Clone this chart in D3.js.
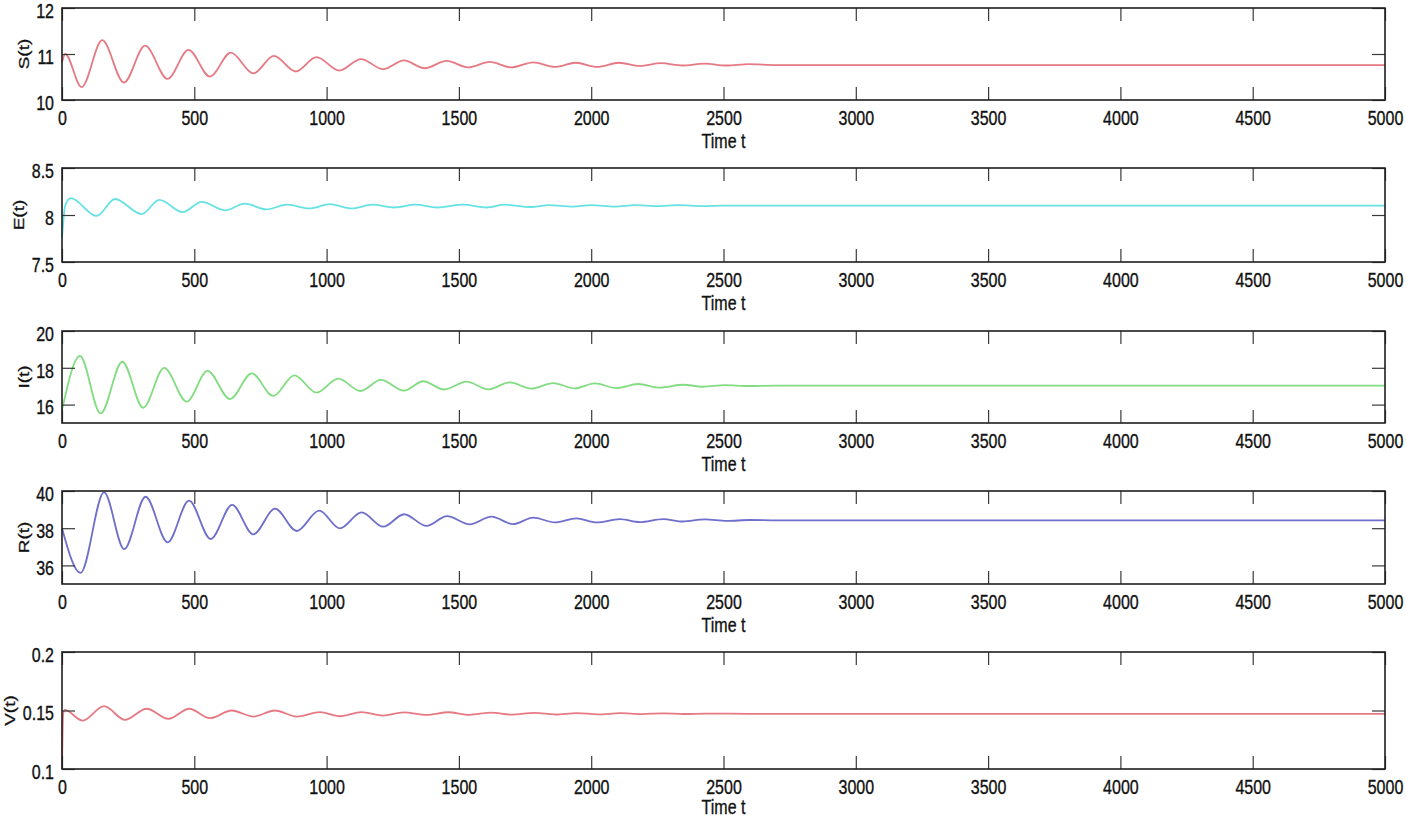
<!DOCTYPE html>
<html>
<head>
<meta charset="utf-8">
<script src="https://cdn.jsdelivr.net/npm/d3@7"></script>
<style>
  html, body { margin: 0; padding: 0; background: #fff; }
  svg { display: block; }
  text { font-family: "Liberation Sans", Arial, Helvetica, sans-serif; fill: #111; }
</style>
</head>
<body>
<svg id="chart" width="1406" height="818"></svg>
<script>
// ---------------- data ----------------
const xTickValues = [0, 500, 1000, 1500, 2000, 2500, 3000, 3500, 4000, 4500, 5000];
const xLabel = "Time t";

const sTime = [0, 12, 74, 152, 234, 314, 399, 478, 559, 638, 723, 801, 883, 962, 1048, 1130, 1214, 1292, 1371, 1453, 1535, 1617, 1697, 1781, 1862, 1942, 2022, 2105, 2184, 2264, 2345, 2428, 2510, 2595, 2700, 5000];
const sVal  = [10.82, 11.00, 10.28, 11.30, 10.38, 11.18, 10.46, 11.09, 10.51, 11.03, 10.58, 10.96, 10.62, 10.93, 10.64, 10.89, 10.67, 10.86, 10.69, 10.85, 10.71, 10.83, 10.71, 10.82, 10.72, 10.81, 10.72, 10.81, 10.74, 10.80, 10.75, 10.79, 10.75, 10.78, 10.76, 10.76];
const sTicks = [10, 11, 12];

const eTime = [0, 12, 33, 131, 200, 301, 368, 456, 528, 616, 691, 773, 851, 935, 1012, 1095, 1173, 1255, 1335, 1418, 1515, 1604, 1673, 1770, 1840, 1930, 2000, 2090, 2165, 2250, 2330, 2420, 2500, 2600, 5000];
const eVal  = [7.75, 8.10, 8.18, 7.99, 8.17, 8.01, 8.16, 8.03, 8.14, 8.05, 8.12, 8.06, 8.11, 8.07, 8.115, 8.07, 8.11, 8.08, 8.11, 8.08, 8.11, 8.08, 8.11, 8.085, 8.105, 8.09, 8.105, 8.09, 8.105, 8.095, 8.105, 8.095, 8.10, 8.10, 8.10];
const eTicks = [7.5, 8, 8.5];

const iTime = [0, 68, 146, 228, 307, 386, 471, 550, 635, 717, 798, 878, 962, 1044, 1128, 1205, 1292, 1365, 1444, 1529, 1611, 1692, 1774, 1856, 1938, 2014, 2095, 2177, 2259, 2347, 2423, 2505, 2590, 2700, 5000];
const iVal  = [15.7, 18.64, 15.52, 18.33, 15.83, 18.00, 16.16, 17.83, 16.30, 17.70, 16.47, 17.59, 16.65, 17.41, 16.74, 17.34, 16.76, 17.27, 16.82, 17.25, 16.83, 17.21, 16.87, 17.17, 16.88, 17.15, 16.90, 17.12, 16.92, 17.08, 16.97, 17.06, 17.01, 17.03, 17.03];
const iTicks = [16, 18, 20];

const rTime = [0, 70, 159, 235, 316, 399, 480, 562, 643, 723, 805, 887, 972, 1050, 1132, 1214, 1293, 1378, 1455, 1541, 1623, 1705, 1781, 1862, 1944, 2020, 2108, 2184, 2272, 2346, 2429, 2512, 2600, 2700, 5000];
const rVal  = [38.0, 35.60, 39.93, 36.88, 39.69, 37.24, 39.48, 37.42, 39.25, 37.67, 39.05, 37.85, 38.94, 37.99, 38.85, 38.08, 38.75, 38.12, 38.65, 38.21, 38.62, 38.22, 38.57, 38.31, 38.53, 38.31, 38.49, 38.33, 38.49, 38.36, 38.47, 38.39, 38.44, 38.42, 38.42];
const rTicks = [36, 38, 40];

const vTime = [0, 4, 10, 78, 159, 238, 320, 402, 481, 559, 641, 723, 805, 887, 975, 1050, 1132, 1214, 1290, 1378, 1460, 1540, 1620, 1700, 1785, 1865, 1945, 2025, 2110, 2190, 2270, 2350, 2430, 2600, 5000];
const vVal  = [0.100, 0.146, 0.1505, 0.1414, 0.1537, 0.1420, 0.1515, 0.1428, 0.1515, 0.1434, 0.1500, 0.1448, 0.1500, 0.1448, 0.1486, 0.1451, 0.1486, 0.1457, 0.1484, 0.1462, 0.1485, 0.1463, 0.1482, 0.1465, 0.1480, 0.1466, 0.1478, 0.1467, 0.1477, 0.1469, 0.1476, 0.1470, 0.1474, 0.1472, 0.1472];
const vTicks = [0.1, 0.15, 0.2];

const seriesLabels = ["S(t)", "E(t)", "I(t)", "R(t)", "V(t)"];

// ---------------- layout ----------------
const panels = [
  { label: seriesLabels[0], t: sTime, v: sVal, ticks: sTicks, domain: [10, 12],   top: 8,   bottom: 100, color: "#e67a84", ylx: 23.5, xl: 48 },
  { label: seriesLabels[1], t: eTime, v: eVal, ticks: eTicks, domain: [7.5, 8.5], top: 168, bottom: 262, color: "#66e2e4", ylx: 18.5, xl: 48 },
  { label: seriesLabels[2], t: iTime, v: iVal, ticks: iTicks, domain: [15, 20],   top: 331, bottom: 423, color: "#82dc82", ylx: 23.5, xl: 48 },
  { label: seriesLabels[3], t: rTime, v: rVal, ticks: rTicks, domain: [35, 40],   top: 491, bottom: 584, color: "#6e6ecb", ylx: 23.5, xl: 48 },
  { label: seriesLabels[4], t: vTime, v: vVal, ticks: vTicks, domain: [0.1, 0.2], top: 652, bottom: 769, color: "#e67a84", ylx: 9.5,  xl: 45 }
];

const left = 62, right = 1385;
const SX = 0.8;          // horizontal compression of the glyphs
const tickLen = 13;

const svg = d3.select("#chart");
const x = d3.scaleLinear().domain([0, 5000]).range([left, right]);

panels.forEach(p => {
  const y = d3.scaleLinear().domain(p.domain).range([p.bottom, p.top]);
  const g = svg.append("g");

  // series line
  const pts = p.t.map((t, i) => [t, p.v[i]]);
  const line = d3.line().x(d => x(d[0])).y(d => y(d[1])).curve(d3.curveMonotoneX);
  g.append("path").datum(pts)
    .attr("d", line)
    .attr("fill", "none")
    .attr("stroke", p.color)
    .attr("stroke-width", 1.8)
    .attr("stroke-linejoin", "round");

  // bottom axis (labels)
  const gb = g.append("g").attr("transform", `translate(0,${p.bottom})`)
    .call(d3.axisBottom(x).tickValues(xTickValues).tickSizeInner(-tickLen).tickSizeOuter(0).tickPadding(11).tickFormat(d3.format("d")));
  // top axis
  const gt = g.append("g").attr("transform", `translate(0,${p.top})`)
    .call(d3.axisTop(x).tickValues(xTickValues).tickSizeInner(-tickLen).tickSizeOuter(0).tickFormat(""));
  // left axis (labels)
  const gl = g.append("g").attr("transform", `translate(${left},0)`)
    .call(d3.axisLeft(y).tickValues(p.ticks).tickSizeInner(-tickLen).tickSizeOuter(0).tickPadding(8).tickFormat(d => String(d)));
  // right axis
  const gr = g.append("g").attr("transform", `translate(${right},0)`)
    .call(d3.axisRight(y).tickValues(p.ticks).tickSizeInner(-tickLen).tickSizeOuter(0).tickFormat(""));

  [gb, gt, gl, gr].forEach(a => {
    a.select(".domain").remove();
    a.selectAll(".tick line").attr("stroke", "#3a3a3a").attr("stroke-width", 1.2);
    a.selectAll(".tick text").attr("font-size", 20).attr("fill", "#111")
      .attr("stroke", "#111").attr("stroke-width", 0.35)
      .style("font-family", "'Liberation Sans', Arial, sans-serif");
  });
  gb.selectAll(".tick text").attr("transform", `scale(${SX},1)`);
  gl.selectAll(".tick text").attr("x", -8 / SX).attr("dy", "0.46em").attr("transform", `scale(${SX},1)`);

  // frame
  g.append("rect")
    .attr("x", left).attr("y", p.top)
    .attr("width", right - left).attr("height", p.bottom - p.top)
    .attr("fill", "none").attr("stroke", "#1e1e1e").attr("stroke-width", 1.6);

  // x label
  g.append("text")
    .attr("transform", `translate(${(left + right) / 2},${p.bottom + p.xl}) scale(${SX},1)`)
    .attr("text-anchor", "middle")
    .attr("font-size", 20)
    .attr("stroke", "#111").attr("stroke-width", 0.35)
    .text(xLabel);

  // y label
  g.append("text")
    .attr("transform", `translate(${p.ylx},${(p.top + p.bottom) / 2}) rotate(-90) scale(1,${SX})`)
    .attr("text-anchor", "middle")
    .attr("dy", "0.35em")
    .attr("font-size", 19)
    .attr("stroke", "#111").attr("stroke-width", 0.35)
    .text(p.label);
});
</script>
</body>
</html>
